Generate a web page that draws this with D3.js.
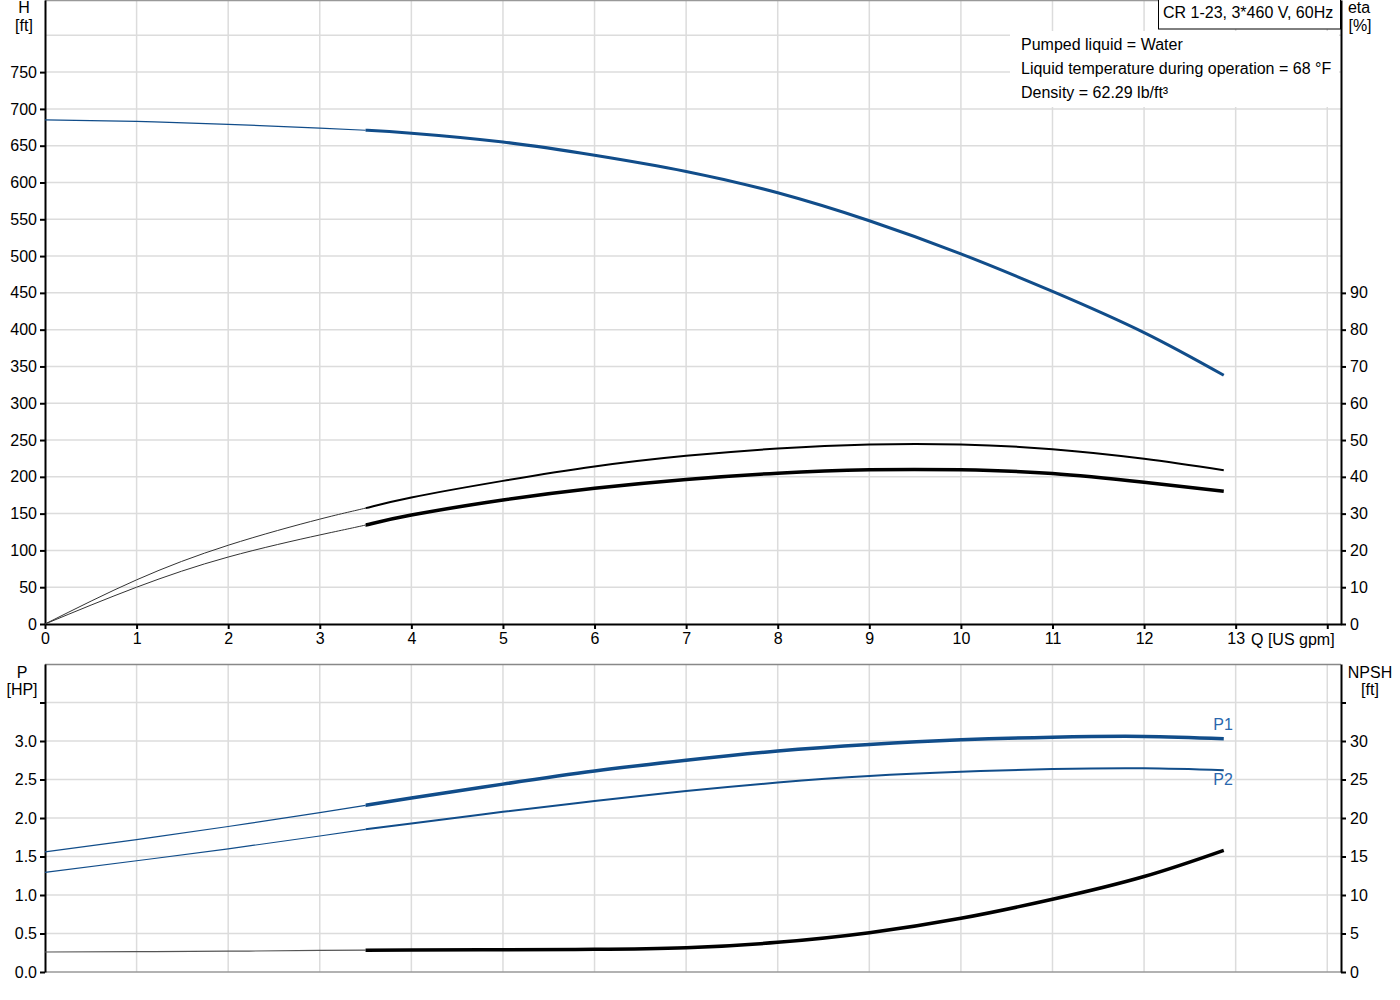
<!doctype html>
<html lang="en">
<head>
  <meta charset="utf-8">
  <title>CR 1-23 pump curves</title>
  <style>
    body { margin:0; background:#fff; }
    svg { display:block; }
    text { font-family: "Liberation Sans", Arial, sans-serif; font-size:16px; fill:#000; }
    .grid line { stroke:#dcdcdc; stroke-width:1.5; }
    .axis path, .axis line { stroke:#000; stroke-width:2; }
    .axis text { font-size:16px; }
  </style>
</head>
<body>
<div id="chart"></div>

<script src="https://cdn.jsdelivr.net/npm/d3@7"></script>
<script>
// flow points [US gpm] shared by all curves
var flow = [0, 1, 2, 3, 3.5, 4, 5, 6, 7, 8, 9, 10, 11, 12, 12.87];
var head = [685, 683, 679, 674, 671, 667, 655, 637, 615, 586, 548, 503, 452, 396, 338];
var etaA = [0, 12, 21.4, 28.5, 31.5, 34.4, 38.9, 42.8, 45.7, 47.7, 48.8, 48.8, 47.5, 44.9, 41.8];
var etaB = [0, 10, 18.2, 24.2, 26.9, 29.6, 33.7, 36.9, 39.3, 41.0, 41.9, 41.9, 40.9, 38.5, 36.1];
var p1 = [1.56, 1.72, 1.89, 2.07, 2.165, 2.26, 2.44, 2.61, 2.75, 2.87, 2.955, 3.015, 3.05, 3.06, 3.03];
var p2 = [1.295, 1.445, 1.60, 1.766, 1.853, 1.93, 2.08, 2.22, 2.35, 2.46, 2.545, 2.60, 2.635, 2.645, 2.62];
var npsh = [2.6, 2.65, 2.7, 2.8, 2.83, 2.86, 2.9, 2.95, 3.15, 3.85, 5.1, 6.97, 9.44, 12.4, 15.8];
var opStart = 3.5; // curves are drawn thin below this flow

var xTicks = [0,1,2,3,4,5,6,7,8,9,10,11,12,13,14];
var hTicks = [0,50,100,150,200,250,300,350,400,450,500,550,600,650,700,750];
var etaTicks = [0,10,20,30,40,50,60,70,80,90];
var pTicks = [0,0.5,1,1.5,2,2.5,3,3.5];
var npshTicks = [0,5,10,15,20,25,30,35];
var infoLines = ["Pumped liquid = Water", "Liquid temperature during operation = 68 °F", "Density = 62.29 lb/ft³"];

var W = 1400, H = 1000;
var svg = d3.select("#chart").append("svg").attr("width", W).attr("height", H);

var x = d3.scaleLinear().domain([0, 14.15]).range([45, 1341]);
var yH = d3.scaleLinear().domain([0, 848]).range([624, 0]);
var yEta = d3.scaleLinear().domain([0, 169.6]).range([624, 0]);
var yP = d3.scaleLinear().domain([0, 4]).range([972, 664]);
var yN = d3.scaleLinear().domain([0, 40]).range([972, 664]);

// clip regions for the thin (start-up) and thick (operating) parts
var defs = svg.append("defs");
defs.append("clipPath").attr("id", "clipThin").append("rect")
  .attr("x", 0).attr("y", 0).attr("width", x(opStart)).attr("height", H);
defs.append("clipPath").attr("id", "clipThick").append("rect")
  .attr("x", x(opStart)).attr("y", 0).attr("width", W).attr("height", H);

function grid(yScale, yVals, top, bottom) {
  var g = svg.append("g").attr("class", "grid");
  g.selectAll(".v").data(xTicks.slice(1)).enter().append("line")
    .attr("x1", d => x(d)).attr("x2", d => x(d)).attr("y1", top).attr("y2", bottom);
  g.selectAll(".h").data(yVals).enter().append("line")
    .attr("x1", x(0)).attr("x2", x(14.15)).attr("y1", d => yScale(d)).attr("y2", d => yScale(d));
}
grid(yH, hTicks.slice(1).concat([800]), 0, 624);
grid(yP, pTicks.slice(1), 664, 972);

// frame lines
svg.append("line").attr("x1", 45).attr("x2", 1341).attr("y1", 0.5).attr("y2", 0.5).attr("stroke", "#999").attr("stroke-width", 1.5);
svg.append("line").attr("x1", 45).attr("x2", 1341).attr("y1", 664.5).attr("y2", 664.5).attr("stroke", "#888").attr("stroke-width", 1.5);
svg.append("line").attr("x1", 45).attr("x2", 1341).attr("y1", 972).attr("y2", 972).attr("stroke", "#999").attr("stroke-width", 1.5);

// white box behind the liquid info
svg.append("rect").attr("x", 1010).attr("y", 31).attr("width", 329).attr("height", 76).attr("fill", "#fff");

// axes
function axis(gen, tx, ty) {
  return svg.append("g").attr("class", "axis").attr("transform", "translate(" + tx + "," + ty + ")").call(gen);
}
axis(d3.axisLeft(yH).tickValues(hTicks).tickSize(5).tickSizeOuter(0).tickPadding(3), 45, 0);
axis(d3.axisRight(yEta).tickValues(etaTicks).tickSize(5).tickSizeOuter(0).tickPadding(4), 1341, 0);
axis(d3.axisBottom(x).tickValues(xTicks).tickSize(5).tickSizeOuter(0).tickPadding(4)
  .tickFormat(d => d === 14 ? "" : d), 0, 624);
axis(d3.axisLeft(yP).tickValues(pTicks).tickSize(5).tickSizeOuter(0).tickPadding(3)
  .tickFormat(d => d === 3.5 ? "" : d.toFixed(1)), 45, 0);
axis(d3.axisRight(yN).tickValues(npshTicks).tickSize(5).tickSizeOuter(0).tickPadding(4)
  .tickFormat(d => d === 35 ? "" : d), 1341, 0);

svg.append("text").attr("x", 1251).attr("y", 645).text("Q [US gpm]");

// axis titles
function label(t, px, py, anchor) {
  svg.append("text").attr("x", px).attr("y", py).attr("text-anchor", anchor || "middle").text(t);
}
label("H", 24, 13); label("[ft]", 24, 31);
label("eta", 1359, 13); label("[%]", 1360, 31);
label("P", 22, 678); label("[HP]", 22, 695);
label("NPSH", 1370, 678); label("[ft]", 1370, 695);

// title box
svg.append("rect").attr("x", 1158.5).attr("y", -1).attr("width", 182).attr("height", 30)
  .attr("fill", "#fff").attr("stroke", "#000").attr("stroke-width", 1);
label("CR 1-23, 3*460 V, 60Hz", 1163, 18, "start");
infoLines.forEach(function (t, i) { label(t, 1021, 50 + i * 24, "start"); });

// each curve: smooth path drawn thin before opStart, thick after
function curve(vals, yScale, color, thinW, thickW, thinColor) {
  var pts = flow.map((q, i) => [q, vals[i]]);
  var line = d3.line().x(d => x(d[0])).y(d => yScale(d[1])).curve(d3.curveNatural);
  svg.append("path").datum(pts).attr("d", line).attr("clip-path", "url(#clipThin)")
    .attr("fill", "none").attr("stroke", thinColor || color).attr("stroke-width", thinW);
  svg.append("path").datum(pts).attr("d", line).attr("clip-path", "url(#clipThick)")
    .attr("fill", "none").attr("stroke", color).attr("stroke-width", thickW);
}
var blue = "#114d8a";
curve(head, yH, blue, 1.2, 3);
curve(etaA, yEta, "#000", 1, 2, "#333");
curve(etaB, yEta, "#000", 1, 3.5, "#333");
curve(p1, yP, blue, 1.2, 3.5);
curve(p2, yP, blue, 1.2, 2);
curve(npsh, yN, "#000", 1.2, 3.5, "#555");

svg.append("text").attr("x", 1223).attr("y", 730).attr("text-anchor", "middle").style("fill", "#2a67ad").text("P1");
svg.append("text").attr("x", 1223).attr("y", 785).attr("text-anchor", "middle").style("fill", "#2a67ad").text("P2");
</script>
</body>
</html>
